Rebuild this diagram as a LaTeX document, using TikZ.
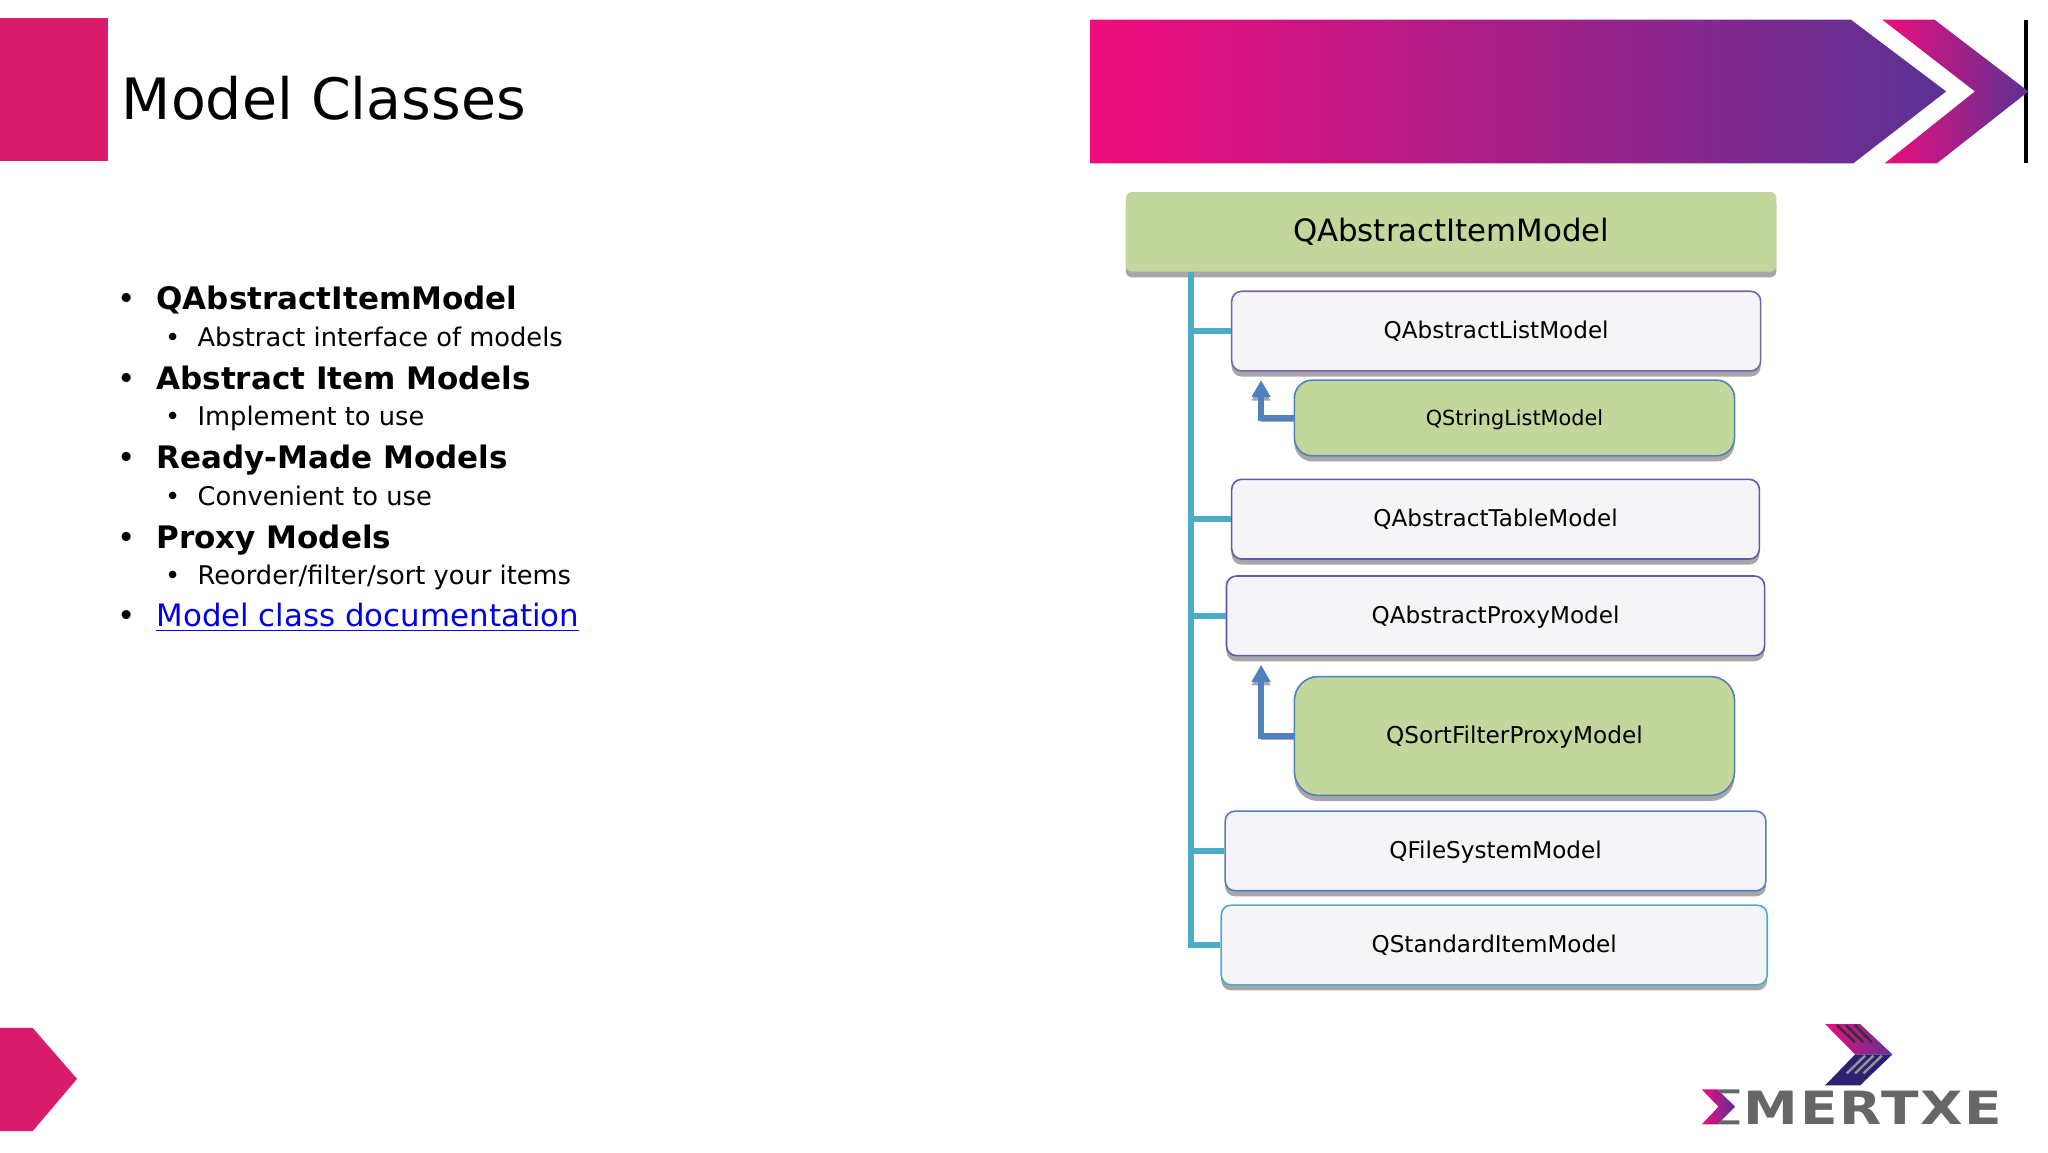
\documentclass[tikz,border=0pt]{standalone}
\usepackage{xcolor}
\usepackage{fontspec}
\usepackage{tikz}
\usetikzlibrary{arrows.meta,shadows}
\setmainfont{DejaVu Sans}
\newfontfamily\logofont[FakeStretch=1.2,LetterSpace=4]{DejaVu Sans}
\newlength\ux
\setlength\ux{0.65306pt}
\definecolor{brandpink}{HTML}{D81B6A}
\definecolor{gradpink}{HTML}{F00C7C}
\definecolor{gradpurple}{HTML}{5A3294}
\definecolor{boxgreen}{HTML}{C3D69B}
\definecolor{boxwhite}{HTML}{F5F5F8}
\definecolor{trunkteal}{HTML}{4BACC6}
\definecolor{arrowblue}{HTML}{4F81BD}
\definecolor{shadowgray}{HTML}{A8A6A8}
\definecolor{logonavy}{HTML}{2E2270}
\definecolor{logogray}{HTML}{666666}
\definecolor{edgeviolet}{HTML}{7A62A6}
\definecolor{edgeindigo}{HTML}{5F5BA8}
\tikzset{
  modelbox/.style={rectangle, rounded corners=5pt, inner sep=0pt, line width=0.8pt, text height=9.8pt, text depth=2pt,
    drop shadow={shadow xshift=0pt, shadow yshift=-2.8pt, fill=shadowgray, opacity=1}},
  rootbox/.style={modelbox, fill=boxgreen, rounded corners=3pt, text height=11.7pt, minimum width=498\ux, minimum height=61\ux, font=\fontsize{15.4}{18}\selectfont},
  whitebox/.style={modelbox, fill=boxwhite, minimum height=61\ux, font=\fontsize{11.55}{14}\selectfont},
  greenbox/.style={modelbox, fill=boxgreen, draw=arrowblue, minimum width=337\ux, rounded corners=9pt},
  trunk/.style={draw=trunkteal, line width=2.8pt},
  subclass/.style={draw=arrowblue, line width=2.8pt, -{Triangle[length=8.5pt,width=9pt]},
    preaction={draw=shadowgray, transform canvas={yshift=-1.8pt}}},
  mainitem/.style={anchor=base west, inner sep=0pt, font=\fontsize{15.5}{18}\selectfont\bfseries,
    execute at begin node={\llap{\normalfont•\hspace{10.2pt}}}},
  subitem/.style={anchor=base west, inner sep=0pt, font=\fontsize{12.85}{16}\selectfont,
    execute at begin node={\llap{•\hspace{8.7pt}}}},
}
\begin{document}
\begin{tikzpicture}[x=0.65306pt, y=-0.65306pt]
    \useasboundingbox (0,0) rectangle (1568,882);

    \fill[brandpink] (0,14) rectangle (83,123);
    \fill[brandpink] (0,787) -- (25,787) -- (59,826) -- (25,866) -- (0,866) -- cycle;
    \node (Title) [anchor=base west, inner sep=0pt, font=\fontsize{28.5}{34}\selectfont] at (93,91.5) {Model Classes};

    \shade[left color=gradpink, right color=gradpurple] (835,15) -- (1417,15) -- (1490,70) -- (1419,125) -- (835,125) -- cycle;
    \fill[black] (1549.5,15) rectangle (1552.5,125);
    \shade[left color=gradpink, right color=gradpurple] (1441,15) -- (1481,15) -- (1553,70) -- (1483,125) -- (1443,125) -- (1512,70) -- cycle;

    \node (ItemA) [mainitem] at (119.5,237) {QAbstractItemModel};
    \node (SubA) [subitem] at (151,265) {Abstract interface of models};
    \node (ItemB) [mainitem] at (119.5,298) {Abstract Item Models};
    \node (SubB) [subitem] at (151,326) {Implement to use};
    \node (ItemC) [mainitem] at (119.5,359) {Ready-Made Models};
    \node (SubC) [subitem] at (151,387) {Convenient to use};
    \node (ItemD) [mainitem] at (119.5,420) {Proxy Models};
    \node (SubD) [subitem] at (151,447.5) {Reorder/filter/sort your items};
    \node (ItemE) [mainitem, font=\fontsize{15.43}{18}\selectfont\mdseries] at (119.5,480) {\textcolor{blue!90!black}{\underline{Model class documentation}}};

    \node (Root) [rootbox] at (1111,177.5) {QAbstractItemModel};
    \node (List) [whitebox, draw=edgeviolet, minimum width=405\ux] at (1145.5,253.5) {QAbstractListModel};
    \node (StrList) [greenbox, minimum height=58\ux, font=\fontsize{10.4}{13}\selectfont] at (1159.5,320) {QStringListModel};
    \node (Table) [whitebox, draw=edgeindigo, minimum width=404\ux] at (1145,397.5) {QAbstractTableModel};
    \node (Proxy) [whitebox, draw=edgeindigo, minimum width=412\ux] at (1145,471.5) {QAbstractProxyModel};
    \node (SortProxy) [greenbox, minimum height=91\ux, rounded corners=12pt, font=\fontsize{11.6}{14}\selectfont] at (1159.5,563.5) {QSortFilterProxyModel};
    \node (FileSys) [whitebox, draw=arrowblue, minimum width=414\ux] at (1145,651.5) {QFileSystemModel};
    \node (StdItem) [whitebox, draw=trunkteal, minimum width=418\ux] at (1144,723.5) {QStandardItemModel};

    \coordinate (TrunkTop) at (912,208);
    \coordinate (ListTip) at (965.5,291);
    \coordinate (ProxyTip) at (965.5,509);
    \draw[trunk] (TrunkTop) |- (List.west);
    \draw[trunk] (TrunkTop) |- (Table.west);
    \draw[trunk] (TrunkTop) |- (Proxy.west);
    \draw[trunk] (TrunkTop) |- (FileSys.west);
    \draw[trunk] (TrunkTop) |- (StdItem.west);
    \draw[subclass] (StrList.west) -| (ListTip);
    \draw[subclass] (SortProxy.west) -| (ProxyTip);

    \begin{scope}[shift={(1286.3,773.3)}, x=0.16667pt, y=-0.16667pt]
        \shade[left color=gradpink, right color=gradpurple] (435,42) -- (540,42) -- (637,133) -- (525,133) -- cycle;
        \fill[logonavy] (525,133) -- (637,133) -- (540,226) -- (435,226) -- cycle;
        \draw[black!80, line width=1.2pt] (470,45) -- (525,97) (497,45) -- (550,97) (525,45) -- (575,97);
        \draw[logogray!70, line width=1.2pt] (500,190) -- (555,137) (525,190) -- (580,137) (550,190) -- (605,137);
        \shade[left color=gradpink, right color=gradpurple] (65,238) -- (112,238) -- (165,290) -- (112,343) -- (65,343) -- (115,290) -- cycle;
        \fill[logogray] (112,238) -- (178,238) -- (178,250) -- (124,250) -- cycle;
        \fill[logogray] (124,331) -- (178,331) -- (178,343) -- (112,343) -- cycle;
        \node (Logo) [anchor=base west, inner sep=0pt, text=logogray, font=\fontsize{22.9}{26}\logofont\bfseries] at (190,343) {MERTXE};
    \end{scope}
\end{tikzpicture}
\end{document}
